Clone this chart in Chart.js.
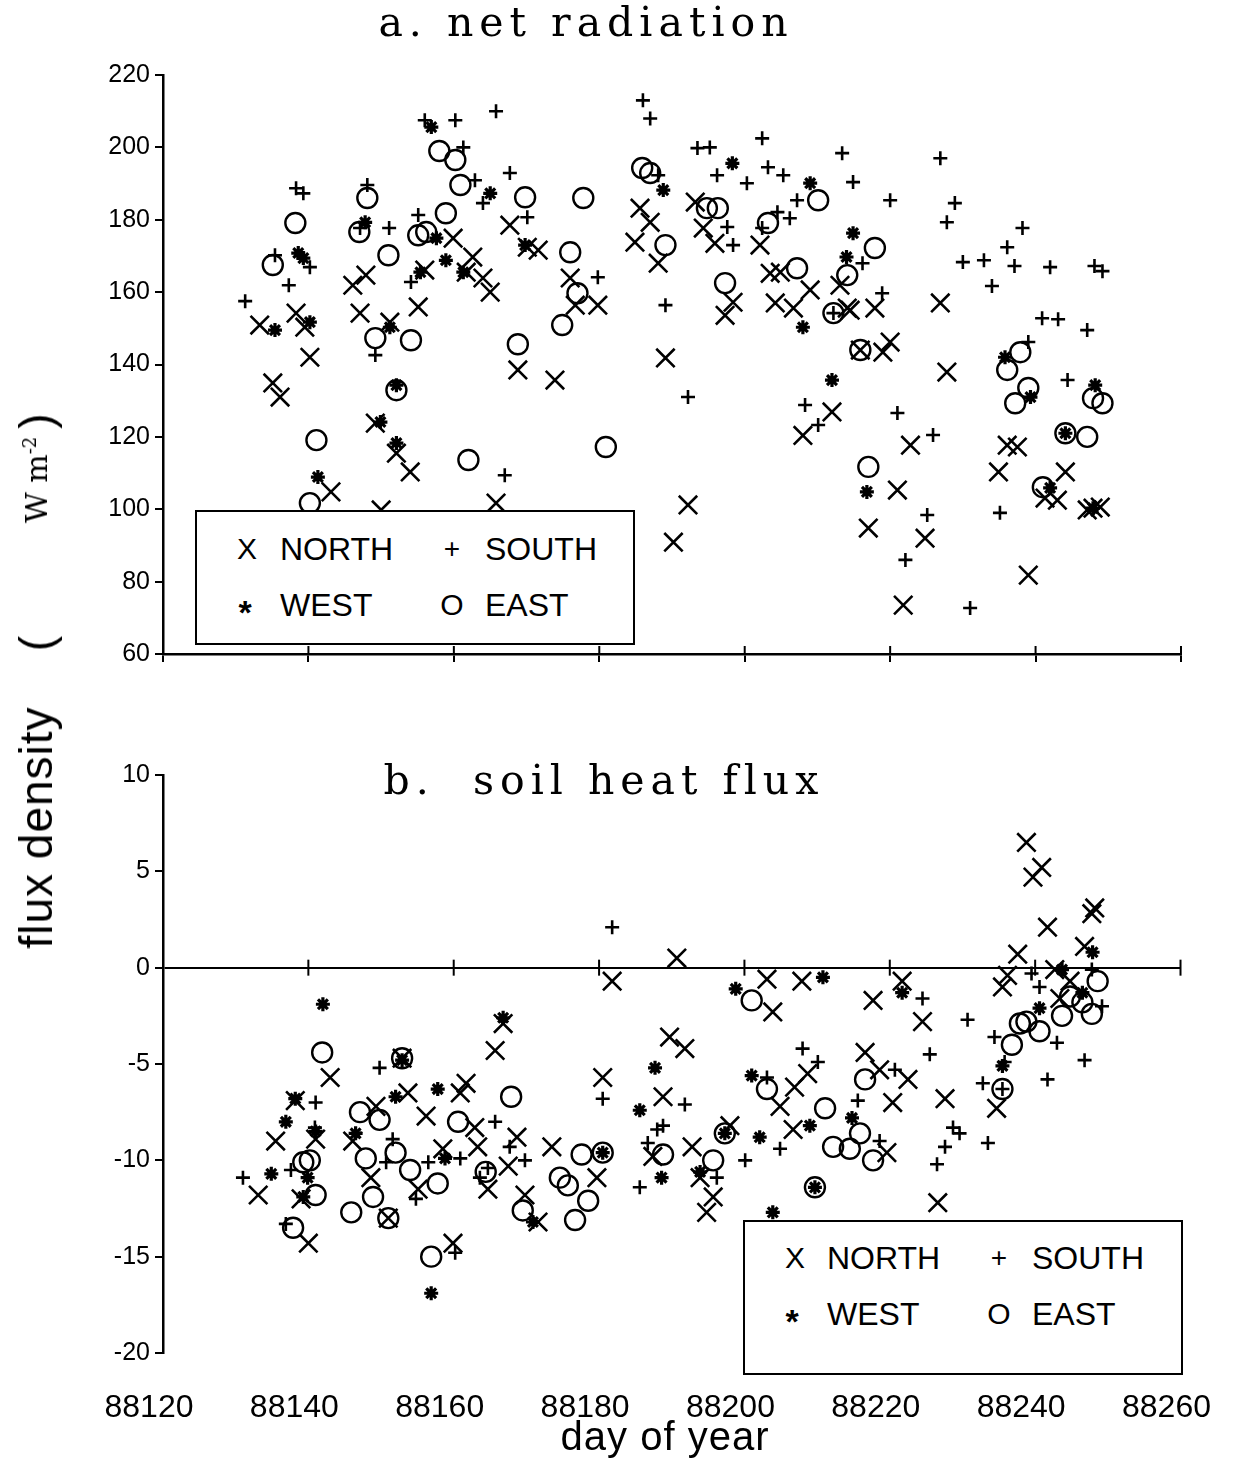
<!DOCTYPE html>
<html>
<head>
<meta charset="utf-8">
<script src="https://cdn.jsdelivr.net/npm/chart.js@4.4.0/dist/chart.umd.min.js"></script>
<style>
  body { margin: 0; background: #fff; }
  #page { position: relative; width: 1253px; height: 1458px; overflow: hidden; background: #fff; }
  canvas { position: absolute; left: 0; }
  .title { position: absolute; font-family: 'DejaVu Serif', serif; font-size: 41px; letter-spacing: 6px;
           white-space: pre; color: #000; transform: translate(-50%, -50%); line-height: 1; }
  .legend { position: absolute; border: 2px solid #000; background: #fff; box-sizing: border-box;
            font-family: 'Liberation Sans', Arial, sans-serif; color: #000; z-index: 2; }
  .legend span { position: absolute; transform: translateY(-50%); font-size: 32px; line-height: 1; }
  .legend span.mk { transform: translate(-50%, -50%); font-size: 30px; }
  .legend span.mk.plus { font-size: 28px; }
  .legend span.mk.star { font-size: 34px; margin-top: 7px; font-weight: bold; }
  #ytitle { position: absolute; left: 36px; top: 676px; width: 545px; transform: translate(-50%, -50%) rotate(-90deg);
            display: flex; align-items: center; white-space: pre; color: #000; }
  #ytitle .sans { font-family: 'Liberation Sans', Arial, sans-serif; font-size: 46px; letter-spacing: 1px; }
  #ytitle .open { margin-left: 55px; }
  #ytitle .serif { font-family: 'DejaVu Serif', serif; font-size: 30px; margin-left: 112px; }
  #ytitle .serif sup { font-size: 18px; }
  #ytitle .close { margin-left: 8px; }
  #xtitle { position: absolute; left: 665px; top: 1436px; transform: translate(-50%, -50%);
            font-family: 'Liberation Sans', Arial, sans-serif; font-size: 40px; letter-spacing: 1px; line-height: 1; }
</style>
</head>
<body>
<div id="page">
  <canvas id="chartA" width="1253" height="700" style="top:0"></canvas>
  <canvas id="chartB" width="1253" height="758" style="top:700px"></canvas>

  <div class="title" style="left:586px; top:22px;">a. net radiation</div>
  <div class="title" style="left:604px; top:780px;">b.  soil heat flux</div>

  <div id="ytitle"><span class="sans">flux density</span><span class="sans open">(</span><span class="serif">W m<sup>-2</sup></span><span class="sans close">)</span></div>
  <div id="xtitle">day of year</div>

  <div class="legend" style="left:195px; top:510px; width:440px; height:135px;">
    <span class="mk" style="left:50px; top:37px;">X</span><span style="left:83px; top:37px;">NORTH</span>
    <span class="mk plus" style="left:255px; top:37px;">+</span><span style="left:288px; top:37px;">SOUTH</span>
    <span class="mk star" style="left:48px; top:93px;">*</span><span style="left:83px; top:93px;">WEST</span>
    <span class="mk" style="left:255px; top:93px;">O</span><span style="left:288px; top:93px;">EAST</span>
  </div>
  <div class="legend" style="left:743px; top:1220px; width:440px; height:155px;">
    <span class="mk" style="left:50px; top:36px;">X</span><span style="left:82px; top:36px;">NORTH</span>
    <span class="mk plus" style="left:254px; top:36px;">+</span><span style="left:287px; top:36px;">SOUTH</span>
    <span class="mk star" style="left:47px; top:92px;">*</span><span style="left:82px; top:92px;">WEST</span>
    <span class="mk" style="left:254px; top:92px;">O</span><span style="left:287px; top:92px;">EAST</span>
  </div>
</div>

<script>
// tick values
const dayTicks = [88120, 88140, 88160, 88180, 88200, 88220, 88240, 88260];
const rnTicks = [60, 80, 100, 120, 140, 160, 180, 200, 220];
const soilTicks = [-20, -15, -10, -5, 0, 5, 10];

// a. net radiation, [day, W m-2]
const rnNorth = [[88133.3,150.9],[88135.1,134.9],[88136.1,131.0],[88138.3,154.2],[88139.5,150.3],[88140.2,142.0],[88143.1,104.8],
  [88146.1,161.9],[88147.9,164.7],[88147.1,154.2],[88149.2,123.8],[88151.2,151.7],[88152.1,115.5],[88154.0,110.3],[88150.0,99.8],
  [88155.1,155.9],[88156.0,166.1],[88159.9,174.9],[88162.6,169.7],[88161.7,165.5],[88164.0,163.9],[88165.0,160.0],[88167.7,178.5],
  [88165.8,101.7],[88170.1,172.4],[88171.6,171.6],[88168.8,138.5],[88173.9,135.7],[88176.0,163.9],[88176.7,156.4],[88179.8,156.4],
  [88185.6,183.2],[88187.0,179.3],[88184.9,173.8],[88188.1,168.0],[88189.1,141.8],[88190.2,90.9],[88192.2,101.2],[88193.2,184.9],
  [88194.3,177.7],[88195.9,173.5],[88202.1,173.0],[88197.3,153.6],[88198.4,157.2],[88203.5,165.2],[88204.9,165.5],[88209.0,160.6],
  [88204.2,157.0],[88206.7,155.6],[88214.1,155.6],[88213.1,161.9],[88214.5,155.0],[88217.9,155.6],[88219.0,143.4],[88220.0,146.2],
  [88215.9,144.0],[88226.9,157.0],[88227.8,137.9],[88208.0,120.4],[88212.0,126.9],[88222.8,117.7],[88221.0,105.3],[88217.0,94.8],
  [88224.8,92.0],[88221.8,73.5],[88236.1,117.7],[88237.5,117.2],[88234.9,110.3],[88244.1,110.3],[88241.3,103.1],[88243.0,102.5],
  [88239.0,81.8],[88247.1,99.8],[88247.9,100.3],[88248.9,100.6]];
const rnSouth = [[88131.3,157.5],[88137.3,161.9],[88138.3,188.7],[88139.3,187.3],[88140.2,166.9],[88135.4,170.2],[88148.1,189.6],
  [88147.1,177.7],[88151.1,177.7],[88149.2,142.6],[88154.1,162.8],[88155.1,181.3],[88156.0,207.5],[88160.2,207.5],[88165.8,210.0],
  [88161.3,200.0],[88162.9,190.9],[88164.0,184.6],[88167.7,192.9],[88167.0,109.4],[88170.1,180.7],[88179.8,164.1],[88186.0,213.0],
  [88187.0,208.0],[88188.1,192.3],[88189.1,156.4],[88192.2,131.0],[88193.5,199.8],[88195.2,200.0],[88196.2,192.3],[88200.3,190.1],
  [88202.4,202.5],[88203.2,194.5],[88205.3,192.3],[88197.6,178.0],[88198.4,173.0],[88202.4,177.7],[88204.5,182.1],[88206.2,180.4],
  [88207.2,185.4],[88213.4,198.4],[88214.9,190.4],[88220.0,185.4],[88226.9,197.0],[88228.9,184.6],[88227.8,179.3],[88238.2,177.7],
  [88236.1,172.4],[88230.0,168.3],[88232.9,168.8],[88237.1,167.2],[88242.0,166.9],[88248.1,167.2],[88249.2,165.8],[88234.0,161.7],
  [88216.2,168.0],[88218.9,159.7],[88240.9,152.8],[88243.1,152.5],[88247.1,149.5],[88239.0,146.2],[88244.4,135.7],[88221.0,126.6],
  [88225.9,120.5],[88235.1,99.0],[88225.1,98.4],[88222.1,86.0],[88231.0,72.7],[88208.3,128.8],[88210.1,123.3],[88212.2,154.2]];
const rnWest = [[88135.4,149.5],[88138.6,170.8],[88139.3,169.4],[88140.2,151.7],[88147.8,179.3],[88141.3,108.9],[88149.9,124.1],
  [88152.1,134.3],[88152.1,118.3],[88151.2,150.3],[88155.4,165.5],[88156.9,205.6],[88157.6,174.9],[88158.9,168.8],[88161.3,165.5],
  [88165.0,187.3],[88169.8,173.0],[88188.8,188.2],[88198.3,195.6],[88209.0,190.1],[88208.0,150.3],[88212.0,135.7],[88214.9,176.3],
  [88214.0,169.7],[88216.8,104.8],[88235.8,142.0],[88239.3,131.0],[88248.2,134.3],[88244.1,121.0],[88242.0,105.9],[88247.9,100.3]];
const rnEast = [[88138.2,179.1],[88135.1,167.5],[88148.1,186.0],[88147.0,176.6],[88151.0,170.2],[88149.2,147.3],[88154.1,146.7],
  [88155.1,175.7],[88156.2,176.6],[88158.9,181.8],[88158.0,199.0],[88160.2,196.5],[88160.9,189.6],[88141.1,119.1],[88140.2,101.7],
  [88152.1,132.9],[88162.0,113.6],[88168.8,145.6],[88169.8,186.2],[88177.8,186.0],[88176.0,171.0],[88177.0,159.7],[88174.9,150.9],
  [88180.9,117.2],[88185.9,194.3],[88187.0,192.9],[88189.1,173.0],[88194.8,183.2],[88196.3,183.2],[88197.3,162.5],[88203.2,179.1],
  [88207.2,166.6],[88210.1,185.4],[88212.2,154.2],[88214.1,164.7],[88217.9,172.2],[88215.9,144.0],[88217.0,111.7],[88237.9,143.4],
  [88236.1,138.5],[88239.0,133.5],[88237.2,129.3],[88247.9,130.7],[88249.2,129.3],[88244.1,121.0],[88247.1,120.0],[88241.0,106.1]];

// b. soil heat flux, [day, W m-2]
const gNorth = [[88133.1,-11.8],[88135.5,-9.0],[88138.2,-6.9],[88139.0,-12.0],[88140.0,-14.3],[88141.0,-8.9],[88143.0,-5.7],
  [88146.1,-9.0],[88148.6,-10.9],[88149.3,-7.2],[88151.0,-13.0],[88152.9,-4.7],[88153.7,-6.5],[88155.1,-11.5],[88156.2,-7.7],
  [88158.5,-9.4],[88159.9,-14.3],[88160.9,-6.5],[88161.7,-6.0],[88162.9,-8.3],[88163.3,-9.3],[88164.7,-11.5],[88165.7,-4.3],
  [88166.8,-2.9],[88167.5,-10.3],[88168.7,-8.8],[88169.8,-11.8],[88171.6,-13.2],[88173.5,-9.3],[88179.7,-10.9],[88180.5,-5.7],
  [88181.8,-0.7],[88187.4,-9.8],[88188.8,-6.7],[88189.7,-3.6],[88191.8,-4.2],[88190.7,0.5],[88192.8,-9.3],[88193.9,-10.9],
  [88195.7,-11.9],[88194.8,-12.7],[88198.0,-8.2],[88203.1,-0.6],[88203.9,-2.3],[88204.9,-7.2],[88206.9,-6.2],[88208.7,-5.5],
  [88206.7,-8.4],[88207.9,-0.7],[88216.6,-4.4],[88218.6,-5.3],[88217.7,-1.7],[88219.6,-9.6],[88220.4,-7.0],[88221.7,-0.7],
  [88222.5,-5.8],[88224.5,-2.8],[88227.6,-6.8],[88226.6,-12.2],[88234.7,-7.3],[88235.5,-1.0],[88236.2,-0.4],[88237.6,0.7],
  [88238.8,6.5],[88239.7,4.7],[88240.9,5.2],[88241.7,2.1],[88242.7,-0.1],[88243.4,-1.6],[88244.8,-0.7],[88246.8,1.1],
  [88247.8,2.8],[88248.2,3.1]];
const gSouth = [[88131.0,-10.9],[88136.9,-13.3],[88137.6,-10.5],[88141.0,-7.0],[88140.9,-8.3],[88149.8,-5.2],[88150.7,-10.1],
  [88151.6,-8.9],[88154.8,-12.0],[88156.5,-10.1],[88160.2,-14.8],[88160.9,-9.9],[88163.6,-10.9],[88164.7,-10.4],[88165.7,-8.0],
  [88167.7,-9.3],[88169.8,-10.0],[88180.5,-6.8],[88181.8,2.1],[88185.6,-11.4],[88186.7,-9.1],[88188.0,-8.4],[88188.8,-8.2],
  [88191.8,-7.1],[88196.2,-10.9],[88200.1,-10.0],[88203.1,-5.7],[88204.9,-9.4],[88208.0,-4.2],[88210.1,-4.9],[88220.7,-5.3],
  [88215.6,-6.9],[88218.6,-9.0],[88224.5,-1.6],[88225.5,-4.5],[88228.7,-8.3],[88229.6,-8.6],[88227.6,-9.3],[88226.5,-10.2],
  [88230.7,-2.7],[88233.5,-9.1],[88232.8,-6.0],[88234.4,-3.6],[88235.5,-6.3],[88239.5,-0.3],[88240.6,-1.0],[88243.0,-3.9],
  [88241.7,-5.8],[88246.8,-4.8],[88247.8,-0.1],[88249.2,-2.0],[88235.8,-4.9]];
const gWest = [[88142.0,-1.9],[88138.2,-6.8],[88136.9,-8.0],[88134.9,-10.7],[88139.9,-10.9],[88139.3,-11.9],[88141.0,-8.5],
  [88146.5,-8.6],[88152.0,-6.7],[88152.9,-4.8],[88157.8,-6.3],[88158.8,-9.9],[88156.9,-16.9],[88166.8,-2.6],[88170.9,-13.2],
  [88180.5,-9.6],[88185.6,-7.4],[88187.7,-5.2],[88188.6,-10.9],[88193.9,-10.6],[88197.3,-8.6],[88198.8,-1.1],[88201.0,-5.6],
  [88202.1,-8.8],[88203.9,-12.7],[88209.0,-8.2],[88209.7,-11.4],[88210.8,-0.5],[88214.8,-7.8],[88221.7,-1.3],[88235.5,-5.1],
  [88240.6,-2.1],[88247.9,0.8],[88243.7,-0.1],[88246.5,-1.3]];
const gEast = [[88141.9,-4.4],[88139.3,-10.1],[88140.2,-10.0],[88141.0,-11.8],[88137.9,-13.5],[88145.9,-12.7],[88147.1,-7.5],
  [88149.8,-7.9],[88147.9,-9.9],[88148.9,-11.9],[88151.0,-13.0],[88152.9,-4.7],[88152.0,-9.6],[88154.0,-10.5],[88157.8,-11.2],
  [88156.9,-15.0],[88160.6,-8.0],[88164.4,-10.6],[88167.9,-6.7],[88169.5,-12.6],[88174.6,-10.9],[88175.7,-11.3],[88177.6,-9.7],
  [88180.5,-9.6],[88178.5,-12.1],[88176.7,-13.1],[88188.8,-9.7],[88195.7,-10.0],[88197.3,-8.6],[88201.0,-1.7],[88203.1,-6.3],
  [88209.7,-11.4],[88211.1,-7.3],[88212.2,-9.3],[88215.9,-8.6],[88214.5,-9.4],[88217.7,-10.0],[88216.6,-5.8],[88235.5,-6.3],
  [88236.8,-4.0],[88237.9,-2.9],[88238.8,-2.8],[88240.6,-3.3],[88243.7,-2.5],[88244.8,-1.5],[88246.5,-1.8],[88247.8,-2.4],
  [88248.6,-0.7]];

// marker look per orientation
function series(points, style, radius, width) {
  return {
    data: points.map(p => ({ x: p[0], y: p[1] })),
    pointStyle: style,
    pointRadius: radius,
    pointHoverRadius: radius,
    pointBorderColor: '#000',
    pointBackgroundColor: 'rgba(0,0,0,0)',
    pointBorderWidth: width,
    showLine: false
  };
}

function panelData(n, s, w, e) {
  return { datasets: [
    series(n, 'crossRot', 13, 2.6),
    series(s, 'cross', 7, 2.6),
    series(w, 'star', 7, 3.2),
    series(e, 'circle', 10, 2.4)
  ] };
}

// tick marks crossing the baseline (top: x axis, bottom: zero line)
const crossTicks = {
  id: 'crossTicks',
  afterDraw(chart, args, opts) {
    const { ctx, scales: { x, y } } = chart;
    const yPix = opts.atZero ? y.getPixelForValue(0) : chart.chartArea.bottom;
    ctx.save();
    ctx.strokeStyle = '#000';
    ctx.lineWidth = 2;
    dayTicks.slice(1).forEach(v => {
      const px = x.getPixelForValue(v);
      ctx.beginPath();
      ctx.moveTo(px, yPix - 8);
      ctx.lineTo(px, yPix + (opts.atZero ? 8 : 0));
      ctx.stroke();
    });
    ctx.restore();
  }
};

const tickFont = { family: "'Liberation Sans', Arial, sans-serif", size: 25 };

function yAxis(ticks, zeroLine) {
  return {
    type: 'linear',
    min: ticks[0],
    max: ticks[ticks.length - 1],
    afterBuildTicks: s => { s.ticks = ticks.map(v => ({ value: v })); },
    afterFit: s => { s.width = 163; },
    ticks: { color: '#000', font: tickFont, padding: 5, callback: v => String(v) },
    grid: {
      drawOnChartArea: zeroLine,
      color: c => (zeroLine && c.tick && c.tick.value === 0) ? '#000' : 'rgba(0,0,0,0)',
      lineWidth: 2,
      tickColor: '#000',
      tickLength: 8
    },
    border: { display: true, color: '#000', width: 2.5 }
  };
}

Chart.defaults.font.family = "'Liberation Sans', Arial, sans-serif";

new Chart(document.getElementById('chartA'), {
  type: 'scatter',
  data: panelData(rnNorth, rnSouth, rnWest, rnEast),
  options: {
    responsive: false, animation: false, devicePixelRatio: 1,
    layout: { padding: { top: 75, right: 72, left: 0, bottom: 0 } },
    plugins: { legend: { display: false }, tooltip: { enabled: false }, crossTicks: { atZero: false } },
    scales: {
      x: {
        type: 'linear', min: dayTicks[0], max: dayTicks[dayTicks.length - 1],
        afterBuildTicks: s => { s.ticks = dayTicks.map(v => ({ value: v })); },
        afterFit: s => { s.height = 46; },
        ticks: { display: false },
        grid: { drawOnChartArea: false, color: '#000', tickColor: '#000', lineWidth: 2, tickLength: 8 },
        border: { display: true, color: '#000', width: 2.5 }
      },
      y: yAxis(rnTicks, false)
    }
  },
  plugins: [crossTicks]
});

new Chart(document.getElementById('chartB'), {
  type: 'scatter',
  data: panelData(gNorth, gSouth, gWest, gEast),
  options: {
    responsive: false, animation: false, devicePixelRatio: 1,
    layout: { padding: { top: 75, right: 72, left: 0, bottom: 0 } },
    plugins: { legend: { display: false }, tooltip: { enabled: false }, crossTicks: { atZero: true } },
    scales: {
      x: {
        type: 'linear', min: dayTicks[0], max: dayTicks[dayTicks.length - 1],
        afterBuildTicks: s => { s.ticks = dayTicks.map(v => ({ value: v })); },
        afterFit: s => { s.height = 105; },
        ticks: { color: '#000', font: { family: tickFont.family, size: 32 }, padding: 28, maxRotation: 0,
                 labelOffset: -14, callback: v => String(v) },
        grid: { display: false },
        border: { display: false }
      },
      y: yAxis(soilTicks, true)
    }
  },
  plugins: [crossTicks]
});
</script>
</body>
</html>
